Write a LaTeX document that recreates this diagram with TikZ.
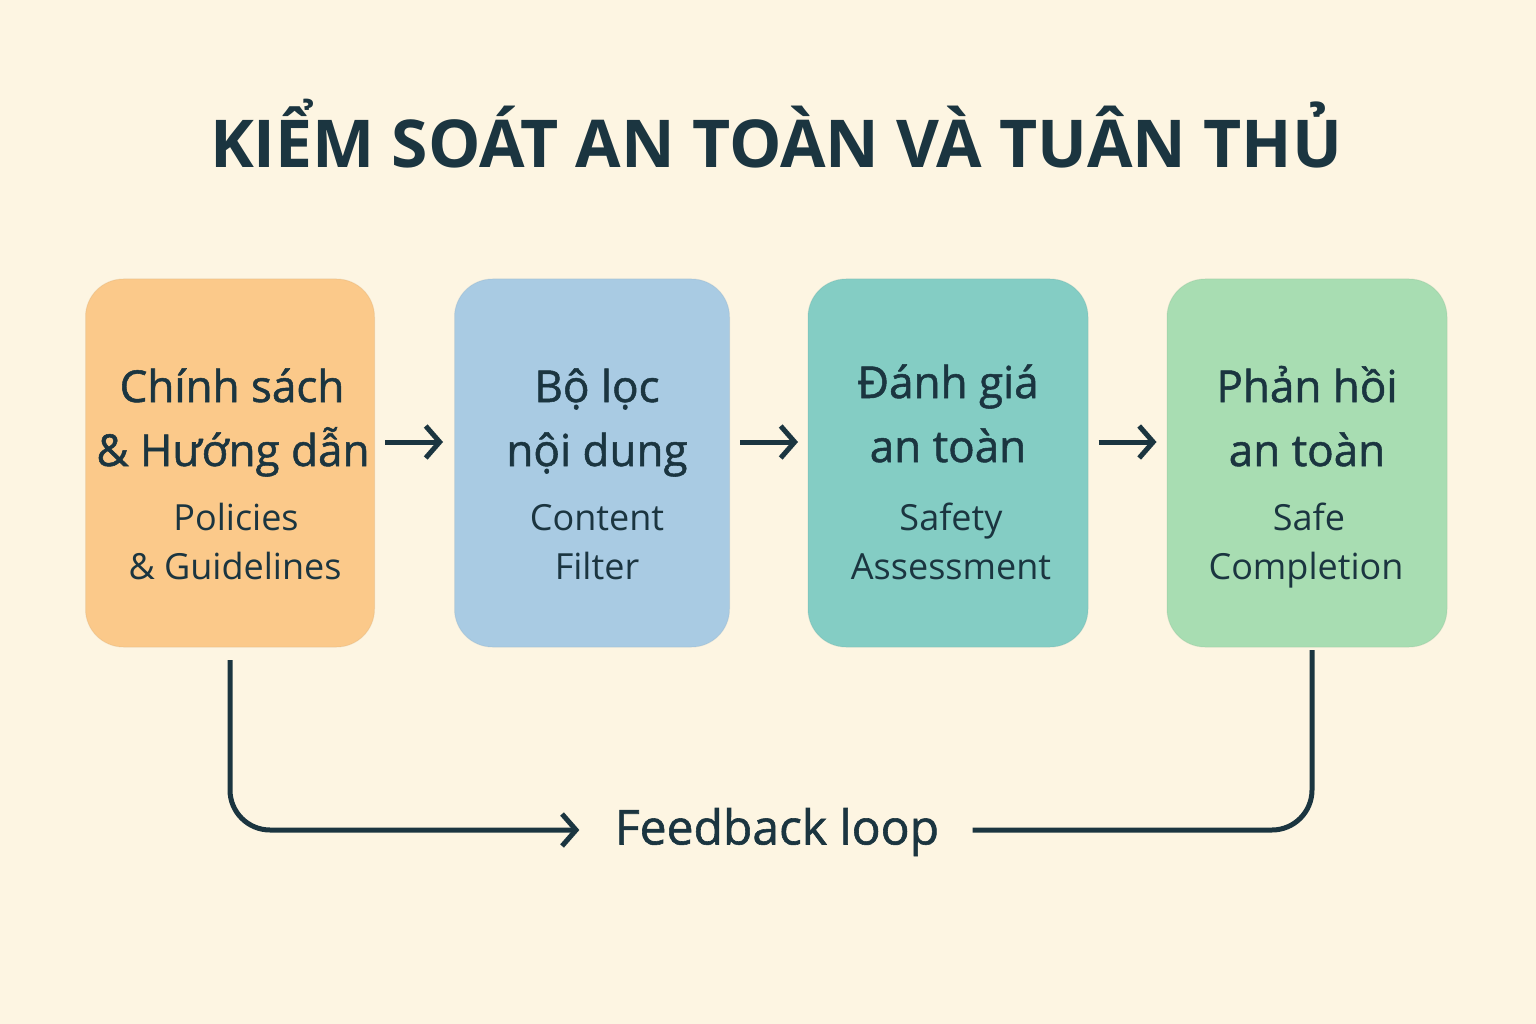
\documentclass[tikz,border=0pt]{standalone}
\usepackage{fontspec}
\setmainfont{Open Sans}
\newfontfamily\semib[FakeBold=1.2]{Open Sans}
\usetikzlibrary{arrows.meta}
\definecolor{bg}{HTML}{FDF5E2}
\definecolor{ink}{HTML}{1B3540}
\definecolor{cor}{HTML}{FBC98A}
\definecolor{cbl}{HTML}{A9CBE3}
\definecolor{cte}{HTML}{84CDC4}
\definecolor{cgr}{HTML}{A8DDB2}
\begin{document}
\begin{tikzpicture}[x=1pt,y=-1pt,
  box/.style={rounded corners=38pt,minimum width=282pt,minimum height=368pt,draw=#1!85!black,draw opacity=0.25,fill=#1,line width=1pt},
  big/.style={text=ink,font=\fontsize{44}{64}\selectfont\semib,anchor=base},
  small/.style={text=ink,font=\fontsize{36}{48}\selectfont,anchor=base},
  arr/.style={draw=ink,line width=5pt,-{Straight Barb[length=14pt,width=32pt,line width=5pt]}}]
\fill[bg] (0,0) rectangle (1536,1024);
\node[text=ink,font=\fontsize{66}{80}\selectfont\bfseries,anchor=base] (title) at (776,168) {KIỂM SOÁT AN TOÀN VÀ TUÂN THỦ};
\node[box=cor,minimum width=289pt] (b1) at (230,463) {};
\node[box=cbl,minimum width=275pt] (b2) at (592,463) {};
\node[box=cte,minimum width=280pt] (b3) at (948,463) {};
\node[box=cgr,minimum width=280pt] (b4) at (1307,463) {};
\node[big] (t1a) at (232,402) {Chính sách};
\node[big] (t1b) at (233,466) {\& Hướng dẫn};
\node[small] (s1a) at (236,530) {Policies};
\node[small] (s1b) at (235,579) {\& Guidelines};
\node[big] (t2a) at (597,402) {Bộ lọc};
\node[big] (t2b) at (597,466) {nội dung};
\node[small] (s2a) at (597,530) {Content};
\node[small] (s2b) at (597,579) {Filter};
\node[big] (t3a) at (948,398) {Đánh giá};
\node[big] (t3b) at (948,462) {an toàn};
\node[small] (s3a) at (951,530) {Safety};
\node[small] (s3b) at (951,579) {Assessment};
\node[big] (t4a) at (1307,402) {Phản hồi};
\node[big] (t4b) at (1307,466) {an toàn};
\node[small] (s4a) at (1309,530) {Safe};
\node[small] (s4b) at (1306,579) {Completion};
\draw[arr] (b1.east|-0,442) ++(10,0) -- ++(58,0);
\draw[arr] (b2.east|-0,442) ++(10,0) -- ++(58,0);
\draw[arr] (b3.east|-0,442) ++(10,0) -- ++(58,0);
\node[text=ink,font=\fontsize{48}{56}\selectfont\semib] (fb) at (777,832) {Feedback loop};
\coordinate (p1) at (230,660);
\coordinate (p2) at (1312,650);
\draw[arr,rounded corners=40pt] (p1) -- (230,830) -- ([xshift=-32pt]fb.west|-0,830);
\draw[draw=ink,line width=5pt,rounded corners=40pt] ([xshift=30pt]fb.east|-0,830) -- (1312,830) -- (p2);
\end{tikzpicture}
\end{document}
